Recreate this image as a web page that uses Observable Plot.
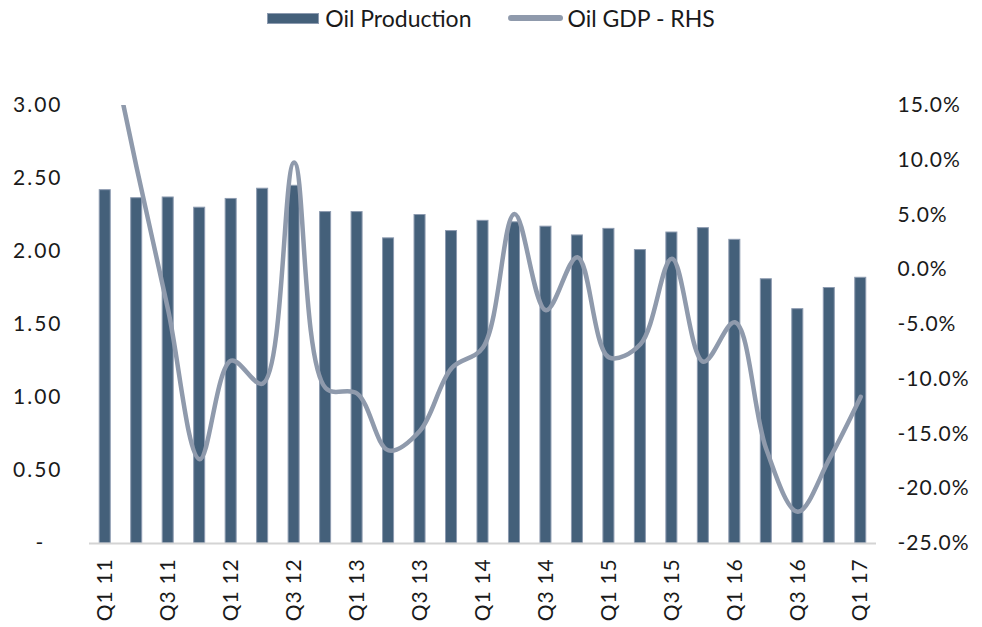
<!DOCTYPE html>
<html>
<head>
<meta charset="utf-8">
<script src="https://cdn.jsdelivr.net/npm/d3@7"></script>
<script src="https://cdn.jsdelivr.net/npm/@observablehq/plot@0.6"></script>
<style>
  html, body { margin: 0; padding: 0; background: #fff; }
  #legend { height: 36px; display: flex; justify-content: center; align-items: center; font-family: Lato, sans-serif; font-size: 23px; color: #1a1a1a; }
  .item { display: flex; align-items: center; }
  .sw-bar { width: 50px; height: 9px; background: #44607a; border: 1px solid #8d9bb0; margin-right: 6px; }
  .sw-line { width: 55px; height: 6px; border-radius: 3px; background: #8f9aac; margin-right: 5px; }
  .ly text { letter-spacing: 2px; }
  .ry text { letter-spacing: 1px; }
  .ax text { letter-spacing: 0.8px; }
</style>
</head>
<body>
<div id="legend">
  <div class="item" style="margin-right:36px"><span class="sw-bar"></span><span>Oil Production</span></div>
  <div class="item"><span class="sw-line"></span><span>Oil GDP - RHS</span></div>
</div>
<div id="chart"></div>
<script>
const quarters = ["Q1 11","Q2 11","Q3 11","Q4 11","Q1 12","Q2 12","Q3 12","Q4 12","Q1 13","Q2 13","Q3 13","Q4 13","Q1 14","Q2 14","Q3 14","Q4 14","Q1 15","Q2 15","Q3 15","Q4 15","Q1 16","Q2 16","Q3 16","Q4 16","Q1 17"];
const oilProduction = [2.42,2.365,2.37,2.30,2.36,2.43,2.45,2.27,2.27,2.09,2.25,2.14,2.21,2.20,2.17,2.11,2.155,2.01,2.13,2.16,2.08,1.81,1.605,1.75,1.82];
const oilGdpPct = [23,9.3,-3.7,-17.3,-8.3,-10.4,9.8,-10.8,-11.3,-16.5,-14.7,-9.0,-7.1,5.1,-3.7,1.15,-8.0,-6.8,1.0,-8.4,-4.8,-16.4,-22.1,-17.3,-11.6];
const leftTicks = [0, 0.5, 1, 1.5, 2, 2.5, 3];
const rightTicksPct = [-25, -20, -15, -10, -5, 0, 5, 10, 15];

// RHS (-25%..15%) mapped onto LHS (0..3)
const toLeft = v => (v + 25) * 3 / 40;
const toPct = d => Math.round((d * 40 / 3 - 25) * 10) / 10;

const data = quarters.map((q, i) => ({q, prod: oilProduction[i], gdp: oilGdpPct[i]}));

const chart = Plot.plot({
  width: 982,
  height: 591,
  marginTop: 69,
  marginBottom: 84,
  marginLeft: 89,
  marginRight: 106,
  style: {fontFamily: "Lato, sans-serif", fontSize: "21px", color: "#1a1a1a", background: "#fff"},
  x: {domain: quarters, paddingInner: 0.65, paddingOuter: 0.325, round: false, axis: null, label: null},
  y: {domain: [0, 3], axis: null, label: null},
  marks: [
    Plot.barY(data, {x: "q", y: "prod", fill: "#44607a", stroke: "#8d9bb0", strokeWidth: 1}),
    Plot.ruleY([0], {stroke: "#d4d4d4", strokeWidth: 2}),
    Plot.line(data, {x: "q", y: d => toLeft(d.gdp), stroke: "#8f9aac", strokeWidth: 4.5, curve: "catmull-rom", clip: true}),
    Plot.axisY({anchor: "left", ticks: leftTicks, tickSize: 0, tickPadding: 27, label: null, className: "ly",
      tickFormat: d => d === 0 ? "-\u2002\u2009" : d.toFixed(2)}),
    Plot.axisY({anchor: "right", ticks: rightTicksPct.map(toLeft), tickSize: 0, tickPadding: 21, label: null, className: "ry",
      tickFormat: d => toPct(d).toFixed(1) + "%"}),
    Plot.axisX({ticks: quarters.filter((d, i) => i % 2 === 0), tickRotate: -90, tickSize: 0, tickPadding: 15, label: null, className: "ax"})
  ]
});
document.getElementById("chart").appendChild(chart);
</script>
</body>
</html>
